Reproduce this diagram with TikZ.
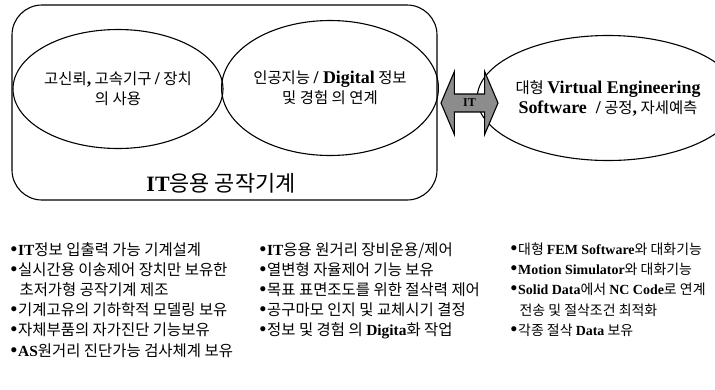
\documentclass[tikz,border=0pt]{standalone}
\usepackage{fontspec}
\setmainfont{Noto Sans CJK KR}
\newfontfamily\serifbig{Liberation Serif}[Scale=1.16]
\newfontfamily\serifsm{Liberation Serif}
\usetikzlibrary{shapes.geometric,shapes.arrows}
\newcommand{\eng}[1]{{\serifbig\bfseries #1}}
\newcommand{\engs}[1]{{\serifsm\bfseries #1}}
\newcommand{\itm}{{\fontsize{19}{16}\serifsm\bfseries\textbullet}\hspace{1bp}}

\begin{document}
\begin{tikzpicture}[x=1bp,y=-1bp,line width=1.1bp,
     el/.style={draw,ellipse,inner sep=0pt,align=center,font=\fontsize{15.5}{20}\selectfont},
     lst/.style={anchor=north west,inner sep=0pt,align=left,font=\fontsize{15.5}{20.2}\selectfont}]
  \useasboundingbox (0,0) rectangle (715,389);
  % IT machine tool block
  \node[draw,rounded corners=30bp,minimum width=425bp,minimum height=195bp] (machine) at (224.5,102.5) {};
  \node[el,minimum width=210bp,minimum height=119bp] (hw) at (118,89)
    {고신뢰\eng{,} 고속기구 \eng{/} 장치\\의 사용};
  \node[el,minimum width=211bp,minimum height=135bp] (ai) at (330,88)
    {인공지능 \eng{/ Digital} 정보\\및 경험 의 연계};
  \node[font=\fontsize{22}{22}\selectfont] (title) at (221,183) {\engs{IT}응용 공작기계};
  % virtual engineering side
  \node[el,minimum width=210bp,minimum height=125bp] (ve) at (608,98)
    {대형 \eng{Virtual Engineering}\\\eng{Software\ \ /} 공정\eng{,} 자세예측};
  \node[draw,fill=black!45,double arrow,double arrow head extend=22.5bp,double arrow tip angle=134,
        minimum height=57bp,inner ysep=4.5bp,inner xsep=2bp,text depth=0pt,
        font=\fontsize{12}{12}\serifsm\bfseries] (link) at (469.5,103) {IT};
  % lists
  \node[lst] (col1) at (10,242) {\itm\engs{IT}정보 입출력 가능 기계설계\\
    \itm 실시간용 이송제어 장치만 보유한\\
    \hspace*{9bp}초저가형 공작기계 제조\\
    \itm 기계고유의 기하학적 모델링 보유\\
    \itm 자체부품의 자가진단 기능보유\\
    \itm\engs{AS}원거리 진단가능 검사체계 보유};
  \node[lst] (col2) at (259,242) {\itm\engs{IT}응용 원거리 장비운용/제어\\
    \itm 열변형 자율제어 기능 보유\\
    \itm 목표 표면조도를 위한 절삭력 제어\\
    \itm 공구마모 인지 및 교체시기 결정\\
    \itm 정보 및 경험 의 \engs{Digita}화 작업};
  \node[lst,font=\fontsize{14}{20.2}\selectfont] (col3) at (510,242.5) {\itm 대형 \engs{FEM Software}와 대화기능\\
    \itm\engs{Motion Simulator}와 대화기능\\
    \itm\engs{Solid Data}에서 \engs{NC Code}로 연계\\
    \hspace*{9bp}전송 및 절삭조건 최적화\\
    \itm 각종 절삭 \engs{Data} 보유};
\end{tikzpicture}
\end{document}
